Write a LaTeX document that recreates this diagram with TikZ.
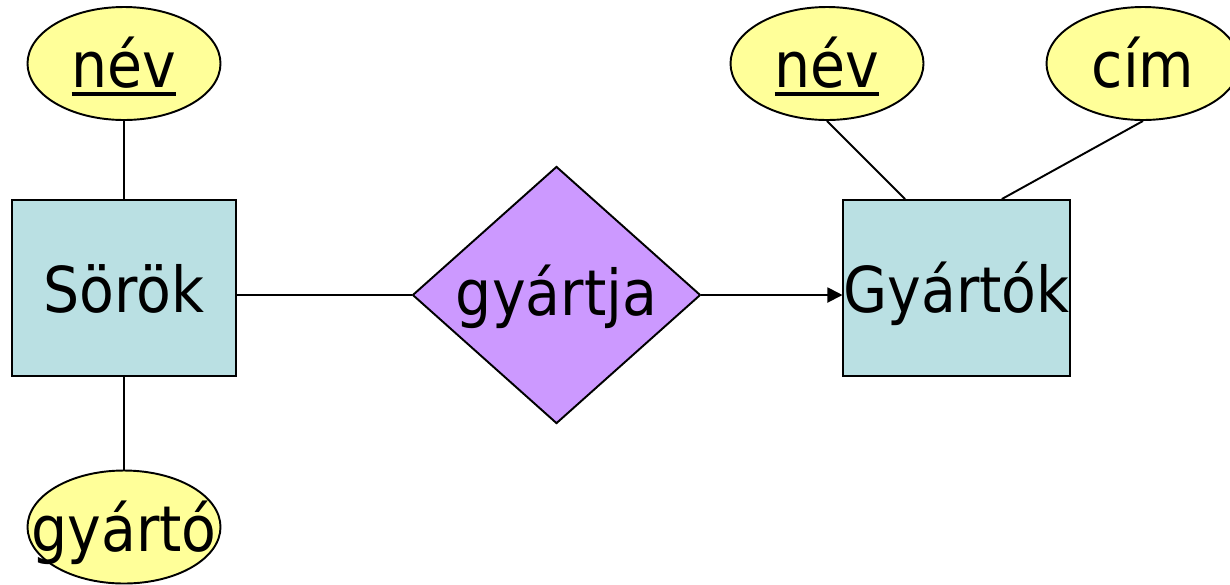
\documentclass[tikz,border=0pt]{standalone}
\usepackage{fontspec}
\setmainfont{DejaVu Sans Condensed}
\usepackage{xcolor}
\usetikzlibrary{shapes.geometric,arrows.meta}
\definecolor{attryellow}{HTML}{FFFF99}
\definecolor{entityblue}{HTML}{BAE0E3}
\definecolor{relpurple}{HTML}{CC99FF}
\newcommand{\kulcs}[1]{\setbox0=\hbox{#1}\rlap{\smash{\rule[-0.13em]{\wd0}{0.06em}}}\box0}

\begin{document}
\begin{tikzpicture}[line width=1.1pt,
    every node/.style={font=\fontsize{36}{40}\selectfont, text height=0.97cm, text depth=0pt, inner sep=0pt},
    attr/.style={ellipse, draw, fill=attryellow, minimum width=3.86cm, minimum height=2.26cm},
    entity/.style={rectangle, draw, fill=entityblue, minimum width=4.48cm, minimum height=3.52cm},
    rel/.style={diamond, draw, fill=relpurple, minimum width=5.76cm, minimum height=5.12cm, text depth=0.15cm}]
                \useasboundingbox (0,0) rectangle (24.6,-11.68);
                \node[attr] (nevs) at (2.48,-1.27) {\kulcs{név}};
                \node[entity] (sorok) at (2.48,-5.76) {Sörök};
                \node[attr] (gyarto) at (2.48,-10.54) {\makebox[0pt]{gyártó}};
                \node[rel] (gyartja) at (11.13,-5.90) {gyártja};
                \node[entity] (gyartok) at (19.13,-5.76) {Gyártók};
                \node[attr] (nevg) at (16.54,-1.27) {\kulcs{név}};
                \node[attr] (cim) at (22.86,-1.27) {cím};
                \draw (nevs) -- (sorok);
                \draw (sorok) -- (gyarto);
                \draw (sorok.east |- gyartja.west) -- (gyartja.west);
                \draw[-{Triangle[length=0.3cm,width=0.3cm]}] (gyartja.east) -- (gyartok.west |- gyartja.east);
                \draw (nevg.south) -- (gyartok.120);
                \draw (cim.south) -- (gyartok.63);
            \end{tikzpicture}
\end{document}
